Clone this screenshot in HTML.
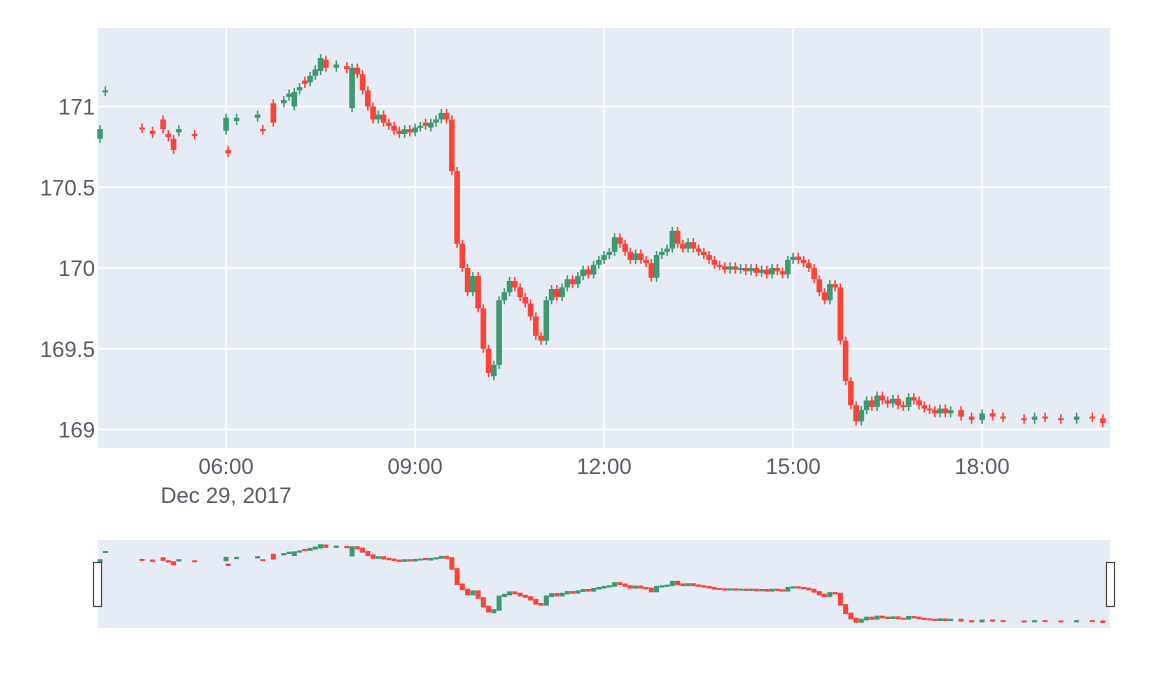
<!DOCTYPE html>
<html><head><meta charset="utf-8"><style>
html,body{margin:0;padding:0;background:#fff;}
svg{display:block;font-family:"Liberation Sans",sans-serif;}
</style></head><body>
<svg id="chart" width="1156" height="673" xmlns="http://www.w3.org/2000/svg">
<rect x="98" y="28" width="1012" height="420" fill="#e5ecf6"/>
<g id="grid"></g>
<g id="ylabels"></g>
<g id="xlabels"></g>
<g id="candles"></g>
<rect x="98" y="540" width="1012" height="88" fill="#e5ecf6"/>
<g id="mini"></g>
<rect x="93.5" y="562.5" width="8" height="44" fill="#fff" stroke="#444" stroke-width="1.2"/>
<rect x="1106.5" y="562.5" width="8" height="44" fill="#fff" stroke="#444" stroke-width="1.2"/>
</svg>
<script>
const times=["04:00","04:05","04:40","04:50","05:00","05:05","05:10","05:15","05:30","06:00","06:02","06:10","06:30","06:35","06:45","06:55","07:00","07:05","07:10","07:15","07:20","07:25","07:30","07:35","07:45","07:55","08:00","08:05","08:10","08:15","08:20","08:25","08:30","08:35","08:40","08:45","08:50","08:55","09:00","09:05","09:10","09:15","09:20","09:25","09:30","09:35","09:40","09:45","09:50","09:55","10:00","10:05","10:10","10:15","10:20","10:25","10:30","10:35","10:40","10:45","10:50","10:55","11:00","11:05","11:10","11:15","11:20","11:25","11:30","11:35","11:40","11:45","11:50","11:55","12:00","12:05","12:10","12:15","12:20","12:25","12:30","12:35","12:40","12:45","12:50","12:55","13:00","13:05","13:10","13:15","13:20","13:25","13:30","13:35","13:40","13:45","13:50","13:55","14:00","14:05","14:10","14:15","14:20","14:25","14:30","14:35","14:40","14:45","14:50","14:55","15:00","15:05","15:10","15:15","15:20","15:25","15:30","15:35","15:40","15:45","15:50","15:55","16:00","16:05","16:10","16:15","16:20","16:25","16:30","16:35","16:40","16:45","16:50","16:55","17:00","17:05","17:10","17:15","17:20","17:25","17:30","17:40","17:50","18:00","18:10","18:20","18:40","18:50","19:00","19:15","19:30","19:45","19:55"];
const opens=[170.80,171.09,170.87,170.85,170.92,170.83,170.80,170.84,170.83,170.85,170.73,170.91,170.93,170.86,171.02,171.02,171.06,171.00,171.10,171.16,171.15,171.19,171.22,171.29,171.24,171.25,170.99,171.24,171.20,171.10,171.00,170.92,170.95,170.90,170.88,170.85,170.83,170.86,170.84,170.87,170.90,170.87,170.90,170.92,170.96,170.92,170.60,170.15,170.00,169.85,169.95,169.75,169.50,169.33,169.40,169.80,169.85,169.92,169.88,169.82,169.78,169.70,169.58,169.55,169.80,169.87,169.82,169.88,169.93,169.90,169.95,169.99,169.96,170.02,170.05,170.08,170.10,170.19,170.15,170.10,170.05,170.09,170.05,170.03,169.94,170.08,170.10,170.12,170.23,170.15,170.12,170.16,170.12,170.10,170.08,170.05,170.02,170.01,169.99,170.01,169.99,170.00,169.98,170.00,169.97,169.99,169.96,170.00,169.98,169.96,170.05,170.07,170.05,170.03,170.00,169.93,169.85,169.80,169.90,169.88,169.55,169.30,169.15,169.05,169.12,169.18,169.14,169.21,169.18,169.16,169.19,169.15,169.14,169.20,169.18,169.15,169.13,169.12,169.10,169.13,169.10,169.12,169.08,169.06,169.10,169.08,169.07,169.06,169.08,169.07,169.06,169.08,169.07];
const closes=[170.86,171.10,170.86,170.83,170.86,170.81,170.73,170.86,170.82,170.93,170.71,170.93,170.95,170.85,170.90,171.04,171.08,171.09,171.12,171.14,171.19,171.23,171.30,171.24,171.26,171.23,171.24,171.20,171.10,171.00,170.92,170.95,170.90,170.88,170.85,170.83,170.86,170.84,170.87,170.88,170.88,170.90,170.92,170.96,170.92,170.60,170.15,170.00,169.85,169.95,169.75,169.50,169.35,169.40,169.80,169.85,169.92,169.88,169.82,169.78,169.70,169.58,169.55,169.80,169.87,169.82,169.88,169.93,169.90,169.95,169.99,169.96,170.02,170.05,170.08,170.10,170.19,170.15,170.10,170.05,170.09,170.05,170.03,169.94,170.08,170.10,170.12,170.23,170.15,170.12,170.16,170.12,170.10,170.08,170.05,170.02,170.01,169.99,170.01,169.99,170.00,169.98,170.00,169.97,169.99,169.96,170.00,169.98,169.96,170.05,170.07,170.05,170.03,170.00,169.93,169.85,169.80,169.90,169.88,169.55,169.30,169.15,169.05,169.12,169.18,169.14,169.21,169.18,169.16,169.19,169.15,169.14,169.20,169.18,169.15,169.13,169.12,169.10,169.13,169.10,169.12,169.08,169.06,169.10,169.08,169.07,169.06,169.08,169.07,169.06,169.08,169.07,169.04];
const yTicks=[169,169.5,170,170.5,171];
const yTickLabels=["169","169.5","170","170.5","171"];
const xTicks=["06:00","09:00","12:00","15:00","18:00"];
const dateLabel="Dec 29, 2017";

const NS="http://www.w3.org/2000/svg";
const X0=98,X1=1110,T0=3.967,T1=20.03;
function hrs(s){const p=s.split(":");return +p[0]+p[1]/60;}
function xs(s){return X0+(hrs(s)-T0)/(T1-T0)*(X1-X0);}
function ys(v){return 268-(v-170)*161.5;}
function ym(v){return 545+(171.3-v)*34.2;}
function mk(tag,attrs,parent){const e=document.createElementNS(NS,tag);for(const k in attrs)e.setAttribute(k,attrs[k]);parent.appendChild(e);return e;}
const grid=document.getElementById('grid'),yl=document.getElementById('ylabels'),xl=document.getElementById('xlabels');
yTicks.forEach((v,i)=>{
  const g=mk('line',{x1:X0,x2:X1,y1:ys(v),y2:ys(v),stroke:'#fff','stroke-width':1.5},grid);
  
  
  const t=mk('text',{x:95,y:ys(v)+8,'text-anchor':'end','font-size':22,fill:'#555c66'},yl);
  t.textContent=yTickLabels[i];
  
  
});
xTicks.forEach(s=>{
  const g=mk('line',{x1:xs(s),x2:xs(s),y1:28,y2:448,stroke:'#fff','stroke-width':1.5},grid);
  
  
  const t=mk('text',{x:xs(s),y:474,'text-anchor':'middle','font-size':22,fill:'#555c66'},xl);
  t.textContent=s;
  
  
});
const dl=mk('text',{x:xs(xTicks[0]),y:503,'text-anchor':'middle','font-size':22,fill:'#555c66'},xl);
dl.textContent=dateLabel;


const cg=document.getElementById('candles'),mg=document.getElementById('mini');
times.forEach((s,i)=>{
  const o=opens[i],c=closes[i],col=c>=o?'#3D9970':'#FF4136';
  const x=xs(s);
  const top=ys(Math.max(o,c)),bot=ys(Math.min(o,c));
  const w=mk('line',{x1:x,x2:x,y1:top-4,y2:bot+4,stroke:col,'stroke-width':1.5},cg);
  
  
  const b=mk('rect',{x:x-2.8,y:top,width:5.6,height:Math.max(2,bot-top),fill:col},cg);
  
  
  const mt=ym(Math.max(o,c)),mb=ym(Math.min(o,c));
  const m=mk('rect',{x:x-2.5,y:mt-0.8,width:5,height:Math.max(1.8,mb-mt+1.6),fill:col},mg);
  
  
});
</script>
</body></html>
